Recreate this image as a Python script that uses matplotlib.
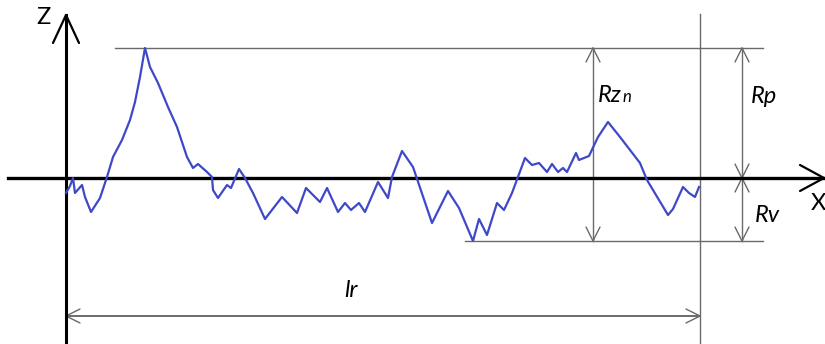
import numpy as np
import matplotlib
matplotlib.use("Agg")
import matplotlib.pyplot as plt
from matplotlib import font_manager

# roughness profile: position along the evaluation length and height above the mean line
profile_x = [0, 4, 7, 9, 16, 19, 25, 34, 41, 47, 56, 64, 69, 74, 79, 84, 92, 102, 111, 121,
             127, 132, 141, 146, 147, 152, 161, 165, 173, 179, 187, 199, 216, 231, 240, 254,
             261, 272, 279, 285, 293, 299, 312, 322, 326, 336, 347, 366, 382, 393, 407, 413,
             421, 431, 438, 446, 459, 466, 473, 481, 486, 492, 497, 501, 510, 513, 523, 532,
             542, 554, 574, 581, 602, 607, 617, 623, 629, 633]
profile_z = [-15, -8, 0, -15, -7, -19, -34, -20, 1, 21, 38, 58, 76, 101, 130, 111, 95, 71, 51, 21,
             10, 14, 6, 1, -12, -20, -7, -10, 9, 0, -15, -41, -19, -35, -10, -24,
             -10, -34, -25, -32, -25, -34, -4, -20, 1, 27, 11, -45, -13, -30, -63, -41,
             -57, -25, -32, -15, 20, 13, 15, 6, 14, 6, 10, 6, 25, 18, 22, 41,
             56, 41, 15, -2, -37, -31, -9, -15, -19, -9]

Rp = max(profile_z)
Rv = -min(profile_z)
lr = profile_x[-1] + 1
x_peak = profile_x[int(np.argmax(profile_z))]
x_valley = profile_x[int(np.argmin(profile_z))]

BLUE = "#3f48c8"
GREY = "#6a6a6a"
names = {f.name for f in font_manager.fontManager.ttflist}
FONT = [f for f in ["Lato", "Open Sans", "Liberation Sans"] if f in names] + ["DejaVu Sans"]
print(FONT)

fig = plt.figure(figsize=(8.25, 3.44), dpi=100)
ax = fig.add_axes([0, 0, 1, 1])
ax.set_xlim(-66, 759)
ax.set_ylim(-166, 178)
ax.axis("off")


def head(x, y, dx, dy, color, lw, length=14, half=7):
    # open V arrow head with its tip at (x, y), pointing along (dx, dy)
    d = np.array([dx, dy], float)
    d /= np.hypot(*d)
    n = np.array([-d[1], d[0]])
    base = np.array([x, y]) - d * length
    for s in (1, -1):
        w = base + s * n * half
        ax.plot([w[0], x], [w[1], y], color=color, lw=lw, solid_capstyle="round")


def dim_v(x, z0, z1):
    ax.plot([x, x], [z0, z1], color=GREY, lw=1.0)
    head(x, z1, 0, 1, GREY, 1.0)
    head(x, z0, 0, -1, GREY, 1.0)


# reference lines through the highest peak and the deepest valley
ax.plot([x_peak - 30, lr + 63], [Rp, Rp], color=GREY, lw=1.0)
ax.plot([x_valley - 8, lr + 63], [-Rv, -Rv], color=GREY, lw=1.0)
ax.plot([lr, lr], [-170, 164], color=GREY, lw=1.0)

# dimension arrows
dim_v(527, -Rv, Rp)
dim_v(676, 0, Rp)
dim_v(676, -Rv, 0)
ax.plot([0, lr], [-138, -138], color=GREY, lw=1.4)
head(lr, -138, 1, 0, GREY, 1.0)
head(0, -138, -1, 0, GREY, 1.0)

# coordinate axes
ax.plot([-58, 758], [0, 0], color="black", lw=2.4)
head(758, 0, 1, 0, "black", 1.6, length=24, half=13)
ax.plot([0, 0], [-170, 163], color="black", lw=2.2)
head(0, 163, 0, 1, "black", 1.6, length=28, half=13)

ax.plot(profile_x, profile_z, color=BLUE, lw=1.6)

# labels
kw = dict(fontsize=17, family=FONT)
ax.text(-23, 160, "Z", ha="center", va="center", **kw)
ax.text(745, -26, "X", ha="left", va="center", **kw)
ax.text(532, 76, "Rz", style="italic", ha="left", va="baseline", **kw)
ax.text(557, 76, "n", fontsize=12, family=FONT, style="italic", ha="left", va="baseline")
ax.text(685, 75, "Rp", style="italic", ha="left", va="baseline", **kw)
ax.text(689, -44, "Rv", style="italic", ha="left", va="baseline", **kw)
ax.text(278, -119, "lr", style="italic", ha="left", va="baseline", **kw)

fig.savefig("out.png", dpi=100)
